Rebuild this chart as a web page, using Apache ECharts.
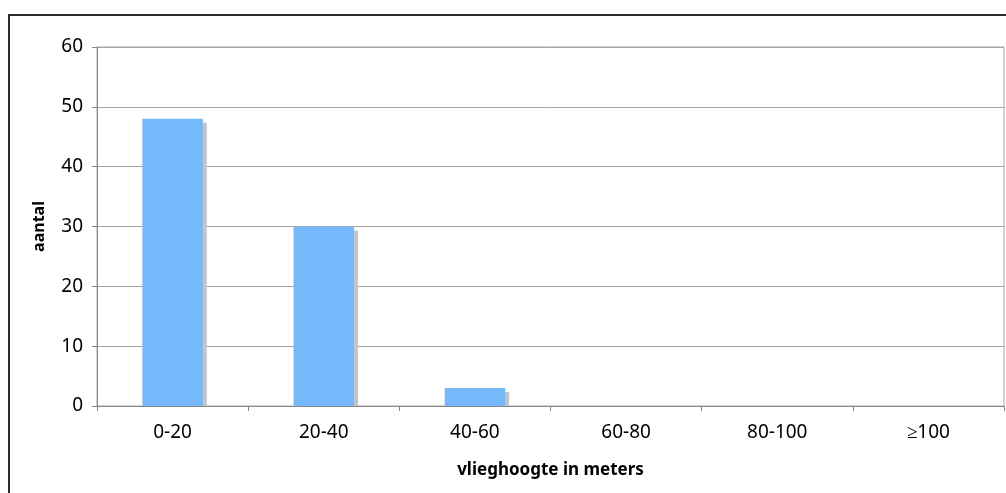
<!DOCTYPE html>
<html>
<head>
<meta charset="utf-8">
<script src="https://cdn.jsdelivr.net/npm/echarts@6/dist/echarts.min.js"></script>
<style>
  html, body { margin: 0; padding: 0; background: #ffffff; }
  #chart { width: 1006px; height: 493px; }
</style>
</head>
<body>
<div id="chart"></div>
<script>
// Flight height classes (m) and number of observations per class
const categories = ['0-20', '20-40', '40-60', '60-80', '80-100', '\u2265100'];
const counts = [48, 30, 3, 0, 0, 0];
const yTicks = { min: 0, max: 60, interval: 10 };

const chart = echarts.init(document.getElementById('chart'), null, { renderer: 'canvas' });

const font = 'Noto Sans';
const BAR_RATIO = 0.4;
const SHADOW_OFFSET = 4;

chart.setOption({
  animation: false,
  backgroundColor: '#ffffff',
  graphic: [
    {
      type: 'rect',
      shape: { x: 9, y: 15, width: 1100, height: 600 },
      style: { fill: 'none', stroke: '#2b2b2b', lineWidth: 2 },
      silent: true
    }
  ],
  grid: {
    left: 97, top: 47, right: 2, bottom: 87,
    show: true,
    borderColor: '#a6a6a6',
    borderWidth: 1
  },
  xAxis: {
    type: 'category',
    data: categories,
    name: 'vlieghoogte in meters',
    nameLocation: 'middle',
    nameGap: 56,
    nameTextStyle: { fontFamily: font, fontWeight: 'bold', fontSize: 17, color: '#000' },
    axisLine: { lineStyle: { color: '#888888', width: 1 } },
    axisTick: { show: true, length: 5, lineStyle: { color: '#888888' } },
    axisLabel: { fontFamily: font, fontSize: 19, color: '#000', margin: 17 }
  },
  yAxis: {
    type: 'value',
    min: yTicks.min,
    max: yTicks.max,
    interval: yTicks.interval,
    name: 'aantal',
    nameLocation: 'middle',
    nameGap: 50,
    nameRotate: 90,
    nameTextStyle: { fontFamily: font, fontWeight: 'bold', fontSize: 16, color: '#000' },
    axisLine: { show: true, lineStyle: { color: '#888888', width: 1 } },
    axisTick: { show: true, length: 5, lineStyle: { color: '#888888' } },
    axisLabel: { fontFamily: font, fontSize: 19, color: '#000', margin: 14 },
    splitLine: { show: true, lineStyle: { color: '#a6a6a6', width: 1 } }
  },
  series: [
    {
      // flat drop shadow behind each bar, stopping at the axis line
      type: 'custom',
      z: 1,
      data: counts.map((v, i) => [i, v]),
      renderItem: function (params, api) {
        const v = api.value(1);
        if (!(v > 0)) return null;
        const top = api.coord([api.value(0), v]);
        const base = api.coord([api.value(0), 0]);
        const w = api.size([1, 0])[0] * BAR_RATIO;
        const h = base[1] - top[1] - SHADOW_OFFSET;
        if (h <= 0) return null;
        return {
          type: 'rect',
          shape: { x: top[0] - w / 2 + SHADOW_OFFSET, y: top[1] + SHADOW_OFFSET, width: w, height: h },
          style: { fill: '#c4c4c4' }
        };
      }
    },
    {
      type: 'bar',
      z: 2,
      data: counts,
      barWidth: (BAR_RATIO * 100) + '%',
      barGap: '-100%',
      itemStyle: { color: '#76b9fb' }
    }
  ]
});
</script>
</body>
</html>
